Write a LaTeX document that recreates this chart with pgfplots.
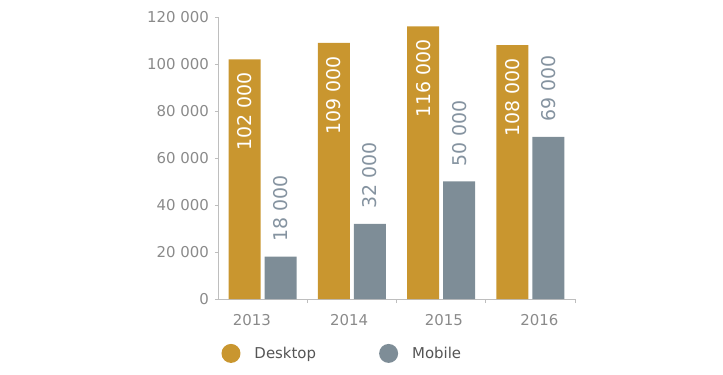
\documentclass[border=0pt]{standalone}
\usepackage{pgfplots}
\pgfplotsset{compat=1.18}
\usepackage{fontspec}
\setmainfont{DejaVu Sans}
\definecolor{desk}{HTML}{C9962F}
\definecolor{mob}{HTML}{7E8D97}
\definecolor{mobtxt}{HTML}{8593A0}
\definecolor{axgray}{HTML}{BEBEBE}
\definecolor{tickgray}{HTML}{8A8A8A}
\definecolor{leggray}{HTML}{555555}
\begin{document}
\begin{tikzpicture}
\useasboundingbox (-218bp,-76bp) rectangle (505bp,299bp);
\begin{axis}[
  at={(0,0)}, anchor=south west,
  scale only axis, width=357bp, height=282bp,
  xmin=-0.5, xmax=3.5, ymin=0, ymax=120000,
  axis x line*=bottom, axis y line*=left,
  axis line style={draw=axgray, line width=0.8bp},
  ybar=4bp, bar width=32bp,
  scaled y ticks=false,
  ytick={0,20000,40000,60000,80000,100000,120000},
  yticklabels={0,20 000,40 000,60 000,80 000,100 000,120 000},
  xtick={-0.12,0.97,2.03,3.1},
  xticklabels={2013,2014,2015,2016},
  minor xtick={0.5,1.5,2.5,3.5},
  major x tick style={draw=none},
  tick style={draw=axgray, line width=0.8bp},
  tick align=outside,
  major tick length=3bp, minor tick length=4bp,
  yticklabel style={font=\fontsize{15}{15}\selectfont, text=tickgray, inner sep=0pt, xshift=-6bp},
  xticklabel style={font=\fontsize{15}{15}\selectfont, text=tickgray, inner sep=0pt, yshift=-12bp},
  legend columns=2,
  legend style={at={(0.0098,-0.193)}, anchor=west, draw=none, inner sep=0pt, outer sep=0pt,
    font=\fontsize{15}{15}\selectfont, text=leggray,
    /tikz/every even column/.append style={column sep=49bp},
    nodes={inner xsep=14bp}},
  legend image code/.code={\fill[#1] (0bp,0bp) circle (9.5bp);},
  point meta=explicit symbolic,
]
\addplot[fill=desk, draw=none, nodes near coords,
  nodes near coords style={rotate=90, anchor=east, text=white, inner xsep=13bp, inner ysep=0pt,
    font=\fontsize{19}{19}\selectfont}]
  coordinates {(0,102000) [102 000] (1,109000) [109 000] (2,116000) [116 000] (3,108000) [108 000]};
\addplot[fill=mob, draw=none, nodes near coords,
  nodes near coords style={rotate=90, anchor=west, text=mobtxt, inner xsep=15bp, inner ysep=0pt,
    font=\fontsize{19}{19}\selectfont}]
  coordinates {(0,18000) [18 000] (1,32000) [32 000] (2,50000) [50 000] (3,69000) [69 000]};
\legend{Desktop, Mobile}
\end{axis}
\end{tikzpicture}
\end{document}
